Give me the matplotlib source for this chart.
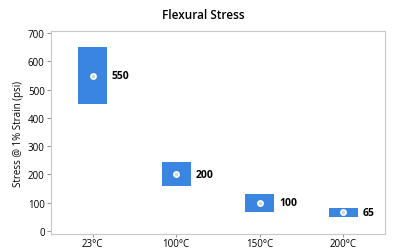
import matplotlib
matplotlib.use('Agg')
import matplotlib.pyplot as plt

categories = ['23°C', '100°C', '150°C', '200°C']
means = [550, 200, 100, 65]
lows = [450, 158, 68, 48]
highs = [650, 242, 130, 82]

plt.rcParams['font.family'] = ['Open Sans', 'DejaVu Sans']
fig = plt.figure(figsize=(4.06, 2.51), dpi=100)
ax = fig.add_axes([0.1256, 0.062, 0.8224, 0.8093])

x = range(len(categories))
ax.bar(x, [h - l for h, l in zip(highs, lows)], bottom=lows, width=0.345,
       color='#3a85e0', edgecolor='none')
ax.scatter(x, means, s=14, color='#c8d6e8', edgecolor='white', linewidth=1.2, zorder=3)
for i, m in zip(x, means):
    ax.text(i + 0.23, m, str(m), ha='left', va='center', fontsize=7.5, fontweight='bold')

ax.set_xlim(-0.5, 3.5)
ax.set_ylim(-13, 707)
ax.set_yticks([0, 100, 200, 300, 400, 500, 600, 700])
ax.set_xticks(list(x))
ax.set_xticklabels(categories)
ax.tick_params(labelsize=7, length=3, color='#999999', pad=1.5)
ax.tick_params(axis='x', length=2, pad=0.5)
for s in ax.spines.values():
    s.set_color('#c8c8c8')
ax.set_ylabel('Stress @ 1% Strain (psi)', fontsize=7, labelpad=3)
fig.text(0.5, 0.94, 'Flexural Stress', ha='center', va='center', fontsize=8.5, fontweight='semibold')

plt.savefig('out.png', dpi=100)
